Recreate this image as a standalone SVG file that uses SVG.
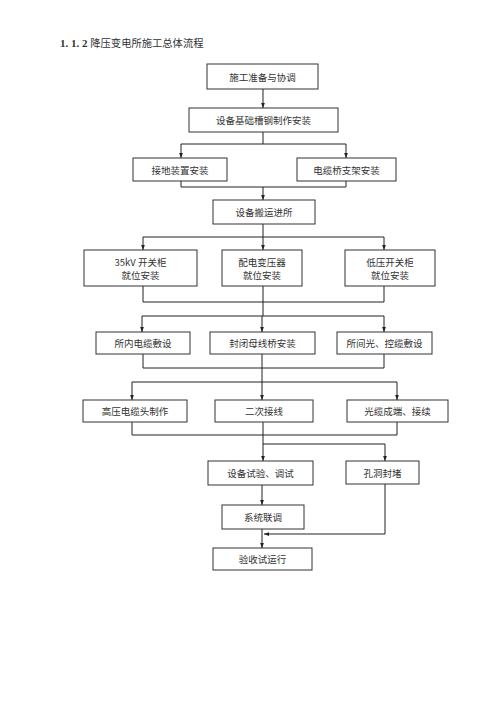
<svg xmlns="http://www.w3.org/2000/svg" width="500" height="707" viewBox="0 0 500 707">
<defs>
<marker id="ah" viewBox="0 0 8 6" refX="8" refY="3" markerWidth="5" markerHeight="5" markerUnits="userSpaceOnUse" orient="auto"><path d="M0,0 L8,3 L0,6 z" fill="#222"/></marker>
<style>
.box{fill:#fff;stroke:#333;stroke-width:1}
.t{font-family:"Noto Sans CJK SC","Liberation Serif",serif;font-size:9.5px;fill:#333;text-anchor:middle;dominant-baseline:central}
.ln{fill:none;stroke:#222;stroke-width:1}
.ar{fill:none;stroke:#222;stroke-width:1;marker-end:url(#ah)}
</style>
</defs>
<rect width="500" height="707" fill="#fff"/>
<text x="60" y="47" font-family="'Liberation Serif','Noto Sans CJK SC',serif" font-size="11" fill="#333"><tspan font-weight="bold">1. 1. 2 </tspan><tspan font-family="'Noto Sans CJK SC',sans-serif" font-size="10.3">降压变电所施工总体流程</tspan></text>

<g id="connectors">
<path class="ar" d="M263,89 V108"/>
<path class="ln" d="M263,132 V144 M181,144 H346"/>
<path class="ar" d="M181,144 V158"/>
<path class="ar" d="M346,144 V158"/>
<path class="ln" d="M181,181 V187 H346 V181"/>
<path class="ar" d="M263,187 V200"/>
<path class="ln" d="M263,224 V237 M143,237 H384"/>
<path class="ar" d="M143,237 V250"/>
<path class="ar" d="M263,237 V250"/>
<path class="ar" d="M384,237 V250"/>
<path class="ln" d="M143,286 V302 H384 V286 M263,286 V316 M142,316 H384"/>
<path class="ar" d="M142,316 V332"/>
<path class="ar" d="M262,316 V332"/>
<path class="ar" d="M384,316 V332"/>
<path class="ln" d="M143,354 V368 H384 V354 M262,354 V382 M132,382 H397"/>
<path class="ar" d="M132,382 V400"/>
<path class="ar" d="M262,382 V400"/>
<path class="ar" d="M397,382 V400"/>
<path class="ln" d="M132,422 V435 H397 V422 M263,444 H385"/>
<path class="ar" d="M263,422 V461"/>
<path class="ar" d="M385,444 V461"/>
<path class="ar" d="M262,485 V505"/>
<path class="ar" d="M262,529 V548"/>
<path class="ar" d="M385,484 V534 H264"/>
</g>

<g id="n1"><rect class="box" x="207" y="64" width="111" height="25"/><text class="t" x="262.5" y="76.5">施工准备与协调</text></g>
<g id="n2"><rect class="box" x="189" y="108" width="149" height="24"/><text class="t" x="263.5" y="120">设备基础槽钢制作安装</text></g>
<g id="n3"><rect class="box" x="133" y="158" width="94" height="23"/><text class="t" x="180" y="169.5">接地装置安装</text></g>
<g id="n4"><rect class="box" x="297" y="158" width="99" height="23"/><text class="t" x="346.5" y="169.5">电缆桥支架安装</text></g>
<g id="n5"><rect class="box" x="213" y="200" width="102" height="24"/><text class="t" x="264" y="212">设备搬运进所</text></g>
<g id="n6"><rect class="box" x="84" y="250" width="113" height="36"/><text class="t" x="140.5" y="262">35kV 开关柜</text><text class="t" x="140.5" y="275">就位安装</text></g>
<g id="n7"><rect class="box" x="222" y="250" width="80" height="36"/><text class="t" x="262" y="262">配电变压器</text><text class="t" x="262" y="275">就位安装</text></g>
<g id="n8"><rect class="box" x="345" y="250" width="90" height="36"/><text class="t" x="390" y="262">低压开关柜</text><text class="t" x="390" y="275">就位安装</text></g>
<g id="n9"><rect class="box" x="96" y="332" width="94" height="22"/><text class="t" x="143" y="343">所内电缆敷设</text></g>
<g id="n10"><rect class="box" x="210" y="332" width="105" height="22"/><text class="t" x="262.5" y="343">封闭母线桥安装</text></g>
<g id="n11"><rect class="box" x="337" y="332" width="95" height="22"/><text class="t" x="384.5" y="343">所间光、控缆敷设</text></g>
<g id="n12"><rect class="box" x="83" y="400" width="104" height="22"/><text class="t" x="135" y="411">高压电缆头制作</text></g>
<g id="n13"><rect class="box" x="215" y="400" width="98" height="22"/><text class="t" x="264" y="411">二次接线</text></g>
<g id="n14"><rect class="box" x="347" y="400" width="101" height="22"/><text class="t" x="397.5" y="411">光缆成端、接续</text></g>
<g id="n15"><rect class="box" x="208" y="461" width="105" height="24"/><text class="t" x="260.5" y="473">设备试验、调试</text></g>
<g id="n16"><rect class="box" x="346" y="461" width="73" height="23"/><text class="t" x="382.5" y="472.5">孔洞封堵</text></g>
<g id="n17"><rect class="box" x="222" y="505" width="82" height="24"/><text class="t" x="263" y="517">系统联调</text></g>
<g id="n18"><rect class="box" x="213" y="548" width="99" height="22"/><text class="t" x="262.5" y="559">验收试运行</text></g>
</svg>
